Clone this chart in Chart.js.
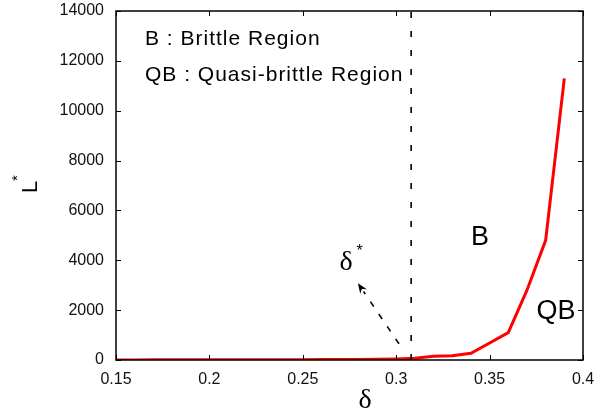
<!DOCTYPE html>
<html>
<head>
<meta charset="utf-8">
<script src="https://cdn.jsdelivr.net/npm/chart.js"></script>
<style>
html,body{margin:0;padding:0;background:#fff;}
#wrap{width:597px;height:416px;position:relative;}
</style>
</head>
<body>
<div id="wrap"><canvas id="c" width="597" height="416"></canvas></div>
<script>
// ---- data ----
const deltaValues = [0.15,0.16,0.17,0.18,0.19,0.20,0.21,0.22,0.23,0.24,0.25,0.26,0.27,0.28,0.29,0.30,0.31,0.32,0.33,0.34,0.35,0.36,0.37,0.38,0.39];
const lStarValues = [5,5,6,6,7,8,9,10,11,12,14,16,18,24,32,45,70,155,170,270,680,1100,2800,4800,11300];
const xTickValues = [0.15,0.2,0.25,0.3,0.35,0.4];
const xTickLabels = ['0.15','0.2','0.25','0.3','0.35','0.4'];
const yTickValues = [0,2000,4000,6000,8000,10000,12000,14000];
const yTickLabels = ['0','2000','4000','6000','8000','10000','12000','14000'];
const deltaStar = 0.308;
const arrowFrom = [0.3015, 650];
const arrowTo = [0.2795, 3080];

const SANS = '"Liberation Sans", Arial, Helvetica, sans-serif';
const SERIF = '"Liberation Serif", "Times New Roman", serif';

const overlay = {
  id: 'overlay',
  afterDatasetsDraw(chart) {
    const {ctx, chartArea: a, scales: {x, y}} = chart;
    ctx.save();
    // vertical dashed line at delta*
    ctx.strokeStyle = '#000';
    ctx.lineWidth = 1.6;
    ctx.setLineDash([6, 13]);
    const xs = x.getPixelForValue(deltaStar);
    ctx.beginPath();
    ctx.moveTo(xs, y.getPixelForValue(0));
    ctx.lineTo(xs, a.top);
    ctx.stroke();
    // dashed arrow
    const x0 = x.getPixelForValue(arrowFrom[0]), y0 = y.getPixelForValue(arrowFrom[1]);
    const x1 = x.getPixelForValue(arrowTo[0]), y1 = y.getPixelForValue(arrowTo[1]);
    const ang = Math.atan2(y1 - y0, x1 - x0);
    const hl = 10, hw = 4;
    const bx = x1 - hl * Math.cos(ang), by = y1 - hl * Math.sin(ang);
    ctx.setLineDash([6, 9]);
    ctx.beginPath();
    ctx.moveTo(x0, y0);
    ctx.lineTo(bx, by);
    ctx.stroke();
    ctx.setLineDash([]);
    ctx.fillStyle = '#000';
    ctx.beginPath();
    ctx.moveTo(x1, y1);
    ctx.lineTo(bx + hw * Math.sin(ang), by - hw * Math.cos(ang));
    ctx.lineTo(x1 - (hl - 3) * Math.cos(ang), y1 - (hl - 3) * Math.sin(ang));
    ctx.lineTo(bx - hw * Math.sin(ang), by + hw * Math.cos(ang));
    ctx.closePath();
    ctx.fill();

    // frame
    ctx.lineWidth = 1.5;
    ctx.strokeStyle = '#000';
    ctx.strokeRect(a.left, a.top, a.right - a.left, a.bottom - a.top);
    // inward ticks on all sides
    const tl = 5;
    ctx.lineWidth = 1;
    ctx.beginPath();
    xTickValues.forEach(v => {
      const px = Math.round(x.getPixelForValue(v)) + 0.5;
      ctx.moveTo(px, a.bottom); ctx.lineTo(px, a.bottom - tl);
      ctx.moveTo(px, a.top); ctx.lineTo(px, a.top + tl);
    });
    yTickValues.forEach(v => {
      const py = Math.round(y.getPixelForValue(v)) + 0.5;
      ctx.moveTo(a.left, py); ctx.lineTo(a.left + tl, py);
      ctx.moveTo(a.right, py); ctx.lineTo(a.right - tl, py);
    });
    ctx.stroke();

    // texts
    ctx.fillStyle = '#000';
    ctx.textAlign = 'left';
    ctx.textBaseline = 'alphabetic';
    ctx.font = '21px ' + SANS;
    ctx.letterSpacing = '1px';
    ctx.fillText('B : Brittle Region', 145, 45);
    ctx.fillText('QB : Quasi-brittle Region', 145, 81);
    ctx.letterSpacing = '0px';

    ctx.font = '27px ' + SANS;
    ctx.textAlign = 'center';
    ctx.fillText('B', x.getPixelForValue(0.3449), y.getPixelForValue(4974) + 9);
    ctx.fillText('QB', x.getPixelForValue(0.3855), y.getPixelForValue(1965) + 8);

    // delta* label
    ctx.textAlign = 'left';
    ctx.font = '28px ' + SERIF;
    const dx = x.getPixelForValue(0.2697), dy = y.getPixelForValue(3620);
    ctx.fillText('\u03b4', dx, dy);
    ctx.font = '16px ' + SANS;
    ctx.fillText('*', dx + 17, dy - 14);

    // x axis title
    ctx.textAlign = 'center';
    ctx.font = '28px ' + SERIF;
    ctx.fillText('\u03b4', 365, 408);

    // y axis title L*
    ctx.save();
    ctx.translate(37, 193);
    ctx.rotate(-Math.PI / 2);
    ctx.textAlign = 'left';
    ctx.font = '22px ' + SANS;
    ctx.fillText('L', 0, 0);
    ctx.font = '15px ' + SANS;
    ctx.fillText('*', 12, -15);
    ctx.restore();

    ctx.restore();
  }
};

const chart = new Chart(document.getElementById('c'), {
  type: 'line',
  data: {
    datasets: [{
      data: deltaValues.map((d, i) => ({x: d, y: lStarValues[i]})),
      borderColor: '#ff0000',
      borderWidth: 3,
      pointRadius: 0,
      tension: 0,
      fill: false
    }]
  },
  options: {
    responsive: false,
    animation: false,
    layout: {padding: {left: 0, top: 11, right: 14, bottom: 0}},
    plugins: {legend: {display: false}, tooltip: {enabled: false}},
    scales: {
      x: {
        type: 'linear',
        min: 0.15, max: 0.4,
        grid: {display: false, drawTicks: false},
        border: {display: false},
        afterBuildTicks: s => { s.ticks = xTickValues.map(v => ({value: v})); },
        afterFit: s => { s.height = 56; s.paddingLeft = 0; s.paddingRight = 0; },
        ticks: {
          padding: 10,
          color: '#111',
          font: {family: SANS, size: 16},
          maxRotation: 0,
          autoSkip: false,
          callback: (v, i) => xTickLabels[i]
        }
      },
      y: {
        type: 'linear',
        min: 0, max: 14000,
        grid: {display: false, drawTicks: false},
        border: {display: false},
        afterBuildTicks: s => { s.ticks = yTickValues.map(v => ({value: v})); },
        afterFit: s => { s.width = 116; s.paddingTop = 0; s.paddingBottom = 0; },
        ticks: {
          padding: 12,
          color: '#111',
          font: {family: SANS, size: 16},
          autoSkip: false,
          callback: (v, i) => yTickLabels[i]
        }
      }
    }
  },
  plugins: [overlay]
});
</script>
</body>
</html>
